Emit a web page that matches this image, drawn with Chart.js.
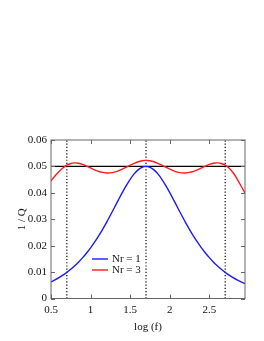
<!DOCTYPE html>
<html>
<head>
<meta charset="utf-8">
<script src="https://cdn.jsdelivr.net/npm/chart.js@4/dist/chart.umd.min.js"></script>
<style>
  html, body { margin: 0; padding: 0; background: #fff; }
  #wrap { width: 264px; height: 341px; }
</style>
</head>
<body>
<div id="wrap"><canvas id="qChart" width="264" height="341"></canvas></div>
<script>
// log(f) sample points
const logF = [0.5, 0.55, 0.6, 0.65, 0.7, 0.75, 0.8, 0.85, 0.9, 0.95,
              1.0, 1.05, 1.1, 1.15, 1.2, 1.25, 1.3, 1.35, 1.4, 1.45,
              1.5, 1.55, 1.6, 1.65, 1.7, 1.75, 1.8, 1.85, 1.9, 1.95,
              2.0, 2.05, 2.1, 2.15, 2.2, 2.25, 2.3, 2.35, 2.4, 2.45,
              2.5, 2.55, 2.6, 2.65, 2.7, 2.75, 2.8, 2.85, 2.9, 2.95];

// 1/Q with one relaxation mechanism
const invQNr1 = [0.00628, 0.00704, 0.00789, 0.00884, 0.00990, 0.01108, 0.01239, 0.01385, 0.01546, 0.01724,
                 0.01919, 0.02132, 0.02363, 0.02611, 0.02875, 0.03151, 0.03436, 0.03724, 0.04006, 0.04272,
                 0.04513, 0.04716, 0.04870, 0.04967, 0.05000, 0.04967, 0.04870, 0.04716, 0.04513, 0.04272,
                 0.04006, 0.03724, 0.03436, 0.03151, 0.02875, 0.02611, 0.02363, 0.02132, 0.01919, 0.01724,
                 0.01546, 0.01385, 0.01239, 0.01108, 0.00990, 0.00884, 0.00789, 0.00704, 0.00628, 0.00561];

// 1/Q with three relaxation mechanisms
const invQNr3 = [0.0445, 0.0464, 0.0480, 0.0494, 0.05046, 0.05112, 0.05134, 0.05119, 0.05075, 0.05011,
                 0.04942, 0.04872, 0.04815, 0.04774, 0.04753, 0.04757, 0.04785, 0.04832, 0.04897, 0.04971,
                 0.05048, 0.05119, 0.05176, 0.05214, 0.05227, 0.05214, 0.05176, 0.05119, 0.05048, 0.04971,
                 0.04897, 0.04832, 0.04785, 0.04757, 0.04753, 0.04774, 0.04815, 0.04872, 0.04942, 0.05011,
                 0.05075, 0.05119, 0.05134, 0.05112, 0.05046, 0.0493, 0.0476, 0.0453, 0.0426, 0.0399];

// target level and relaxation frequencies (dotted lines)
const targetInvQ = 0.05;
const relaxFreqs = [0.7, 1.7, 2.7];

const xRange = [0.5, 2.95];
const yRange = [0, 0.06];
const xTicks = [0.5, 1, 1.5, 2, 2.5];
const yTicks = [0, 0.01, 0.02, 0.03, 0.04, 0.05, 0.06];

const seriesLabels = ['Nr = 1', 'Nr = 3'];
const seriesColors = ['#1a1aff', '#ff1a1a'];

const FONT = '"Liberation Serif", "Times New Roman", serif';

function toPoints(xs, ys) {
    return xs.map((x, i) => ({ x: x, y: ys[i] }));
}

const datasets = [
    { label: seriesLabels[0], data: toPoints(logF, invQNr1), borderColor: seriesColors[0] },
    { label: seriesLabels[1], data: toPoints(logF, invQNr3), borderColor: seriesColors[1] },
    { label: 'target', data: [{ x: xRange[0], y: targetInvQ }, { x: xRange[1], y: targetInvQ }], borderColor: '#000' }
];
relaxFreqs.forEach(f => {
    datasets.push({
        label: 'f' + f,
        data: [{ x: f, y: yRange[0] }, { x: f, y: yRange[1] }],
        borderColor: '#000',
        borderWidth: 1.2,
        borderDash: [1.2, 2]
    });
});
datasets.forEach(d => {
    d.pointRadius = 0;
    d.fill = false;
    d.tension = 0.3;
    if (!d.borderWidth) d.borderWidth = 1.4;
});

// box frame with inward ticks on all four sides
const framePlugin = {
    id: 'frame',
    afterDraw(chart) {
        const { ctx, chartArea: a, scales } = chart;
        ctx.save();
        ctx.strokeStyle = '#666';
        ctx.lineWidth = 1;
        ctx.strokeRect(a.left, a.top, a.right - a.left, a.bottom - a.top);
        const len = 4;
        ctx.beginPath();
        xTicks.forEach(v => {
            const px = Math.round(scales.x.getPixelForValue(v)) + 0.5;
            ctx.moveTo(px, a.bottom); ctx.lineTo(px, a.bottom - len);
            ctx.moveTo(px, a.top); ctx.lineTo(px, a.top + len);
        });
        yTicks.forEach(v => {
            const py = Math.round(scales.y.getPixelForValue(v)) + 0.5;
            ctx.moveTo(a.left, py); ctx.lineTo(a.left + len, py);
            ctx.moveTo(a.right, py); ctx.lineTo(a.right - len, py);
        });
        ctx.stroke();
        ctx.restore();
    }
};

// legend inside the plot
const legendPlugin = {
    id: 'innerLegend',
    afterDraw(chart) {
        const { ctx, chartArea: a } = chart;
        ctx.save();
        ctx.font = '11px ' + FONT;
        ctx.textBaseline = 'middle';
        ctx.fillStyle = '#111';
        seriesLabels.forEach((lab, i) => {
            const y = a.top + 119 + i * 11;
            ctx.strokeStyle = seriesColors[i];
            ctx.lineWidth = 1.4;
            ctx.beginPath();
            ctx.moveTo(a.left + 41, y);
            ctx.lineTo(a.left + 57, y);
            ctx.stroke();
            ctx.fillText(lab, a.left + 61, y + 0.5);
        });
        ctx.restore();
    }
};

new Chart(document.getElementById('qChart'), {
    type: 'line',
    data: { datasets: datasets },
    options: {
        responsive: false,
        animation: false,
        layout: { padding: { top: 140, right: 19, left: 0, bottom: 0 } },
        plugins: { legend: { display: false }, tooltip: { enabled: false } },
        scales: {
            x: {
                type: 'linear',
                min: xRange[0],
                max: xRange[1],
                afterBuildTicks: s => { s.ticks = xTicks.map(v => ({ value: v })); },
                afterFit: s => { s.height = 42.5; },
                grid: { display: false, drawTicks: false },
                border: { display: false },
                ticks: { padding: 5, color: '#111', font: { family: FONT, size: 11 }, maxRotation: 0,
                         callback: v => String(v) },
                title: { display: true, text: 'log (f)', color: '#111', font: { family: FONT, size: 11 }, padding: { bottom: 7.4, top: 0 } }
            },
            y: {
                type: 'linear',
                min: yRange[0],
                max: yRange[1],
                afterBuildTicks: s => { s.ticks = yTicks.map(v => ({ value: v })); },
                afterFit: s => { s.width = 51; },
                grid: { display: false, drawTicks: false },
                border: { display: false },
                ticks: { padding: 4, color: '#111', font: { family: FONT, size: 11 },
                         callback: v => String(v) },
                title: { display: true, text: '1 / Q', color: '#111', font: { family: FONT, size: 11 }, padding: { top: 15.4, bottom: 0 } }
            }
        }
    },
    plugins: [framePlugin, legendPlugin]
});
</script>
</body>
</html>
